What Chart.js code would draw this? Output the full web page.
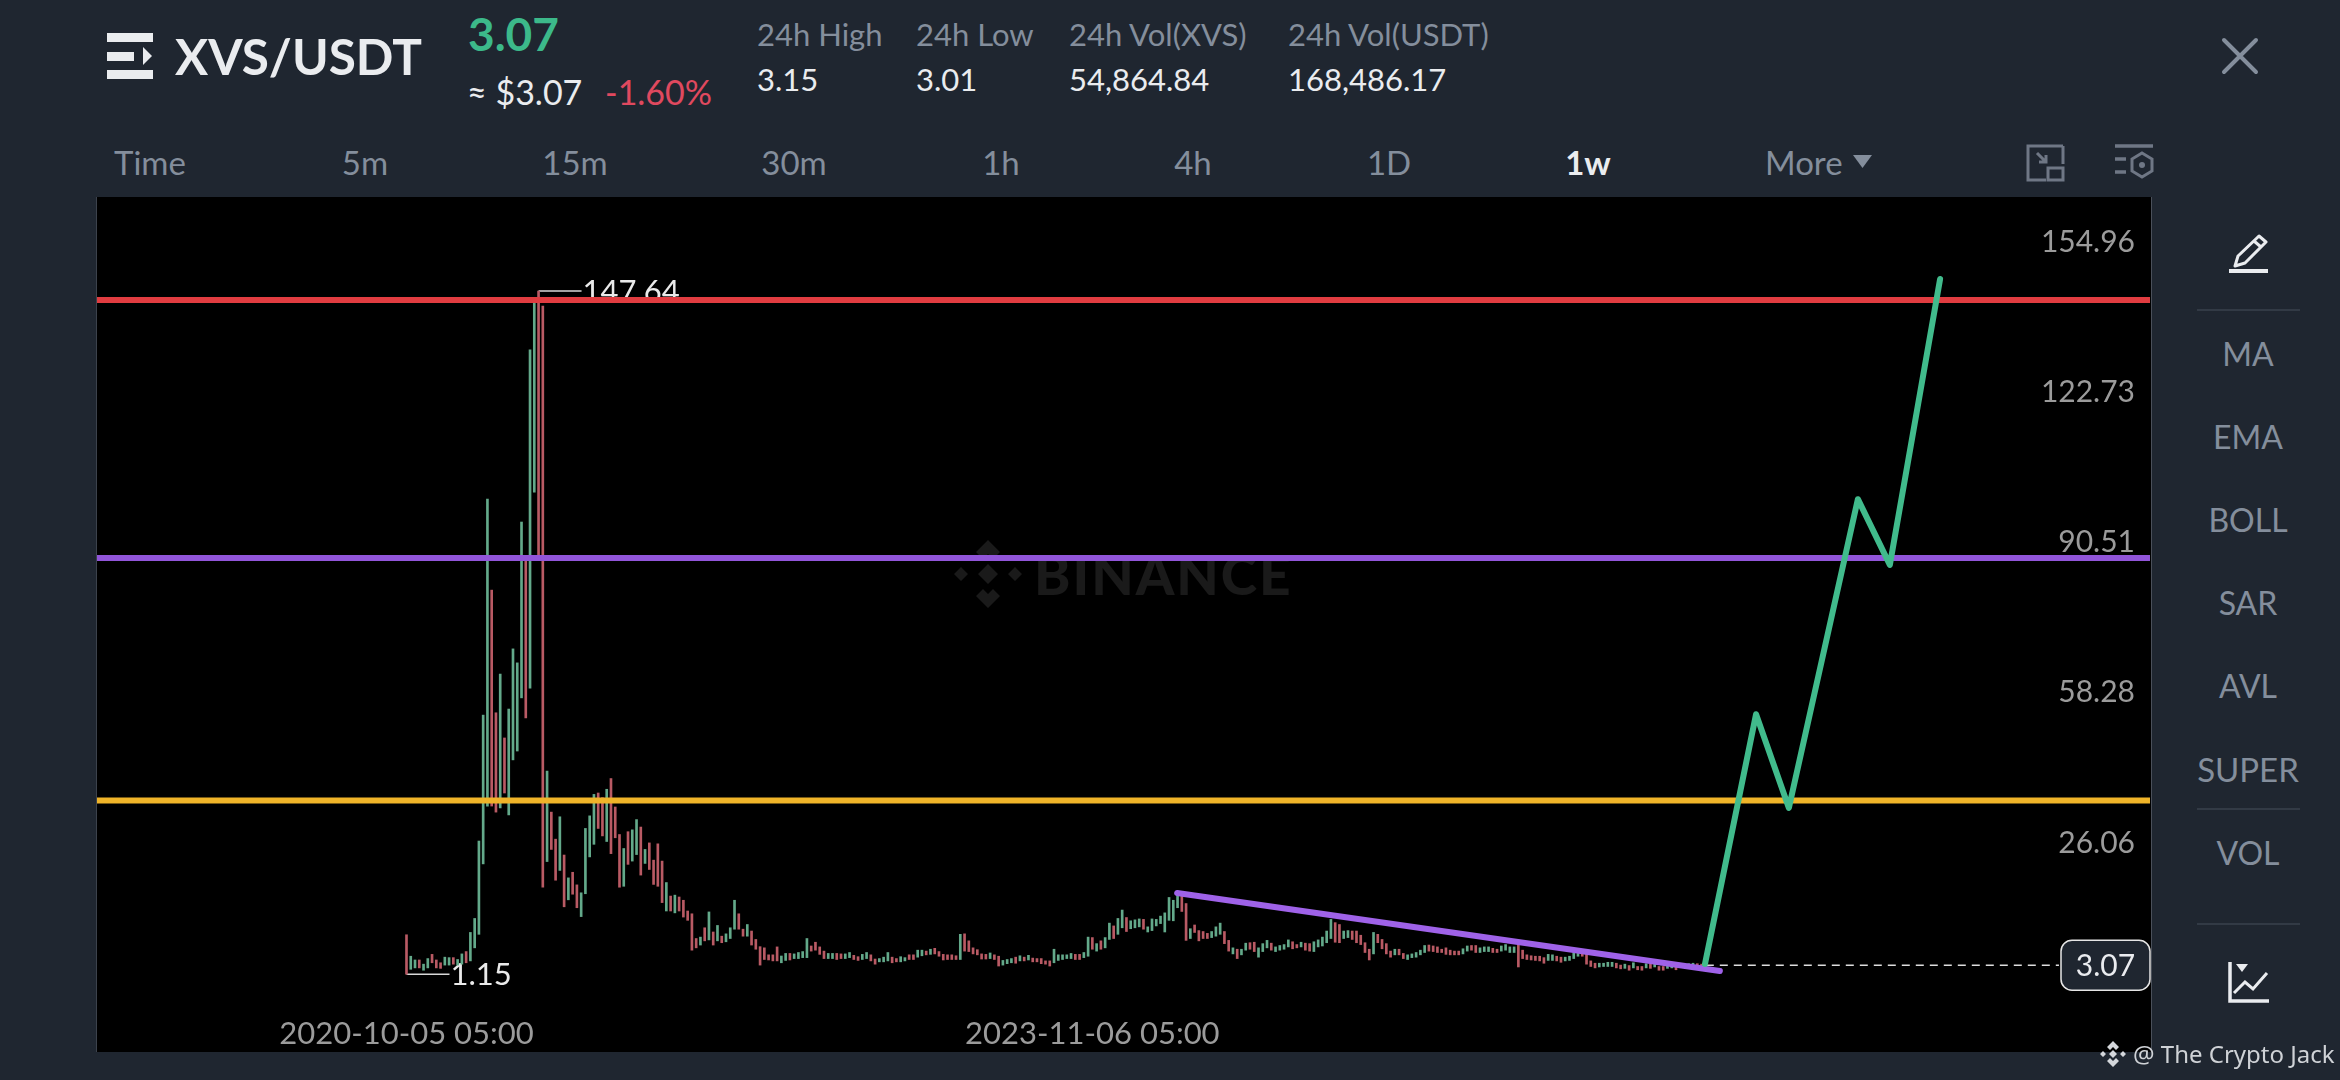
<!DOCTYPE html>
<html><head><meta charset="utf-8">
<script src="https://cdn.jsdelivr.net/npm/chart.js@4"></script>
<style>
html,body{margin:0;padding:0;width:2340px;height:1080px;overflow:hidden;background:#1f2630;font-family:Lato,sans-serif}
.t{position:absolute;white-space:nowrap;transform:translateY(-50%);line-height:1}
.g{color:#848e9c}.w{color:#eaecef}
.c{transform:translate(-50%,-50%)}
#plot{position:absolute;left:97px;top:197px;width:2054px;height:855px;background:#000}
#edge{position:absolute;left:96px;top:197px;width:2056px;height:855px;box-sizing:border-box;border-left:1px solid #3c424c;border-right:1px solid #4a505a}
canvas{position:absolute;left:0;top:0}
svg{position:absolute;left:0;top:0}
</style></head><body>
<svg width="2340" height="1080" viewBox="0 0 2340 1080">
 <g fill="#eaecef"><rect x="107" y="33" width="46" height="9"/><rect x="107" y="52" width="27" height="9"/><rect x="107" y="70" width="46" height="9"/><path d="M143 47l9 9-9 9z"/></g>
 <g stroke="#848e9c" stroke-width="4" fill="none" stroke-linecap="round"><path d="M2224 40L2256 72M2256 40L2224 72"/></g>
 <path d="M1853 155h19l-9.500 13z" fill="#848e9c"/>
 <g stroke="#6f7785" stroke-width="3" fill="none"><path d="M2048 146h-20v34h18M2063 146v18"/><path d="M2048 146h15"/><rect x="2048" y="168" width="15" height="12"/><path d="M2037 153l9 9M2046 155v7h-7"/>
  <path d="M2115 146h38M2115 159h11M2115 172h11" stroke-width="3.500"/><path d="M2142 153l10 6v12l-10 6-10-6v-12z"/></g>
 <circle cx="2142" cy="165" r="3" fill="#6f7785"/>
 <g stroke="#eaecef" stroke-width="3" fill="none"><path d="M2259 236l7 6-21 21-10 3 3-10z" stroke-linejoin="round"/><path d="M2254 241l7 6"/><path d="M2229 271h39" stroke-width="4"/></g>
 <g stroke="#3a414c" stroke-width="1.500"><path d="M2197 310h103M2197 809h103M2197 924h103"/></g>
 <g stroke="#eaecef" fill="none"><path d="M2230 962v39h39" stroke-width="3.500"/><path d="M2234 993l11-11 8 7 14-16" stroke-width="3"/></g><path d="M2236 964h12l-6 8z" fill="#eaecef"/>
</svg>
<div class="t w" style="left:175px;top:57px;font-size:49.500px;font-weight:700">XVS/USDT</div>
<div class="t" style="left:468px;top:34px;font-size:46px;font-weight:700;color:#3cb98a">3.07</div>
<div class="t w" style="left:467px;top:92px;font-size:34px">≈ $3.07</div>
<div class="t" style="left:605px;top:92px;font-size:34px;color:#e0495f">-1.60%</div>
<div class="t g" style="left:757px;top:34px;font-size:31px">24h High</div>
<div class="t g" style="left:916px;top:34px;font-size:31px">24h Low</div>
<div class="t g" style="left:1069px;top:34px;font-size:31px">24h Vol(XVS)</div>
<div class="t g" style="left:1288px;top:34px;font-size:31px">24h Vol(USDT)</div>
<div class="t w" style="left:757px;top:79px;font-size:31px">3.15</div>
<div class="t w" style="left:916px;top:79px;font-size:31px">3.01</div>
<div class="t w" style="left:1069px;top:79px;font-size:31px">54,864.84</div>
<div class="t w" style="left:1288px;top:79px;font-size:31px">168,486.17</div>
<div class="t g" style="left:114px;top:162px;font-size:33px">Time</div>
<div class="t g c" style="left:365px;top:162px;font-size:33px">5m</div>
<div class="t g c" style="left:575px;top:162px;font-size:33px">15m</div>
<div class="t g c" style="left:794px;top:162px;font-size:33px">30m</div>
<div class="t g c" style="left:1001px;top:162px;font-size:33px">1h</div>
<div class="t g c" style="left:1193px;top:162px;font-size:33px">4h</div>
<div class="t g c" style="left:1389px;top:162px;font-size:33px">1D</div>
<div class="t w c" style="left:1588px;top:162px;font-size:33px;font-weight:700">1w</div>
<div class="t g" style="left:1765px;top:162px;font-size:33px">More</div>
<div class="t g c" style="left:2248px;top:354px;font-size:32px">MA</div>
<div class="t g c" style="left:2248px;top:437px;font-size:32px">EMA</div>
<div class="t g c" style="left:2248px;top:520px;font-size:32px">BOLL</div>
<div class="t g c" style="left:2248px;top:603px;font-size:32px">SAR</div>
<div class="t g c" style="left:2248px;top:686px;font-size:32px">AVL</div>
<div class="t g c" style="left:2248px;top:769px;font-size:33px">SUPER</div>
<div class="t g c" style="left:2248px;top:853px;font-size:32px">VOL</div>
<div id="plot">
 <svg width="2054" height="855" viewBox="0 0 2054 855">
  <g fill="#1a1a1a" transform="translate(891,377)"><path d="M0-34L12-22 5-15 0-20-5-15-12-22zM-34 0l7-7 7 7-7 7zM34 0l-7-7-7 7 7 7zM-18 0l-0 0M0-10L10 0 0 10-10 0zM0 34L12 22 5 15 0 20-5 15-12 22z"/></g>
 </svg>
 <div class="t" style="left:937px;top:377px;font-size:55px;font-weight:900;color:#1a1a1a;letter-spacing:2px">BINANCE</div>
 <canvas id="c" width="2054" height="855"></canvas>
</div>
<div id="edge"></div>
<svg width="2340" height="1080" viewBox="0 0 2340 1080" style="pointer-events:none"><g fill="#d4d7db" transform="translate(2113,1054)"><path d="M0-13L6-7 3-4 0-7-3-4-6-7zM-13 0l3-3 3 3-3 3zM13 0l-3-3-3 3 3 3zM0-4L4 0 0 4-4 0zM0 13L6 7 3 4 0 7-3 4-6 7z"/></g></svg>
<div class="t" style="left:2133px;top:1054px;font-size:24px;color:#cfd2d6;font-family:'Noto Sans',sans-serif">@ The Crypto Jack</div>
<script>
const xTickIndex = [0, 161];
const xTickLabels = ['2020-10-05 05:00', '2023-11-06 05:00'];
const yTickValues = [26.06, 58.28, 90.51, 122.73, 154.96];
const highs = [
9.6,5.0,4.2,4.2,3.3,4.5,5.4,4.2,3.6,4.8,
4.7,4.7,4.3,5.5,6.0,10.1,13.1,29.7,56.7,103.0,
83.5,57.2,65.5,51.8,58.0,70.9,67.9,98.1,90.8,135.0,
145.1,147.64,144.4,44.7,35.9,30.1,34.9,26.7,21.8,23.0,
20.3,18.6,32.4,35.1,39.7,40.0,39.0,40.8,43.1,37.0,
31.1,28.1,31.7,32.1,34.3,32.7,27.9,29.3,25.6,29.1,
25.4,20.8,17.9,18.1,17.7,17.0,14.7,14.1,8.8,9.1,
11.1,14.5,10.2,11.6,9.3,9.8,11.1,17.0,14.1,10.8,
11.8,10.4,8.6,7.05,6.8,5.3,5.3,7.0,5.05,5.6,
5.6,5.5,5.8,6.0,8.8,7.2,8.0,7.0,6.1,5.6,
5.6,5.6,5.5,5.5,5.8,5.2,4.9,5.4,5.8,5.3,
4.4,4.5,4.8,5.8,4.8,4.5,4.9,4.7,5.3,5.3,
6.3,6.3,6.1,6.5,6.7,6.0,5.4,5.3,5.3,5.1,
9.7,9.8,8.3,6.8,6.4,5.5,5.4,5.7,5.3,5.0,
4.1,4.3,4.5,4.8,5.1,4.8,5.2,4.6,4.5,4.5,
4.0,4.0,6.5,5.3,5.3,5.3,5.6,5.4,5.4,5.8,
9.1,9.0,7.7,8.3,9.0,12.1,11.5,13.1,14.9,13.3,
12.6,12.8,13.0,12.9,11.3,13.0,12.9,13.6,14.3,17.6,
17.0,18.3,17.9,16.3,10.9,11.7,10.5,10.3,9.9,10.3,
11.3,12.1,10.3,8.4,6.8,6.5,6.5,7.8,7.9,8.0,
6.8,7.7,8.4,7.8,7.0,7.3,7.5,8.5,8.1,7.5,
8.0,7.8,7.7,8.1,8.5,9.1,10.4,12.9,12.2,11.8,
10.4,10.5,10.4,10.4,9.5,7.9,6.5,10.1,9.7,8.6,
7.7,6.1,6.5,6.5,5.6,5.3,5.5,5.8,6.3,7.3,
7.4,7.2,7.0,6.5,6.8,6.3,6.1,6.1,6.6,7.2,
7.3,7.3,6.8,7.0,7.0,6.7,6.5,7.2,7.5,7.0,
7.0,7.5,6.3,5.3,5.1,5.0,5.0,4.7,5.4,5.3,
5.0,4.8,4.8,5.0,5.8,5.6,5.7,5.5,4.0,3.5,
3.5,3.5,3.7,3.7,3.5,3.1,3.3,3.0,3.6,2.8,
2.8,3.4,3.3,3.4,2.8,2.8,3.1,3.3,3.0,3.3,
3.3,3.4,3.5,3.4,3.3,3.5];
const lows = [
1.15,2.2,2.5,2.5,2.0,2.5,3.6,2.5,2.4,3.1,
3.1,3.3,3.1,3.3,3.6,4.0,6.8,9.7,24.8,37.2,
37.2,35.9,36.8,40.0,35.3,47.1,49.0,60.4,56.1,62.5,
104.5,90.8,19.8,25.3,27.9,21.3,23.4,15.6,17.1,18.3,
15.4,13.5,18.4,26.3,29.0,32.4,30.8,29.6,27.0,30.4,
19.8,20.0,24.7,25.4,26.8,22.4,24.9,23.6,20.4,20.0,
16.5,14.7,14.7,14.3,14.7,13.4,12.7,6.3,6.8,7.4,
8.3,8.5,7.4,8.3,7.9,8.1,8.8,10.8,10.8,9.3,
9.3,7.4,6.5,3.1,4.3,4.2,4.0,4.0,3.6,4.1,
4.2,4.5,4.5,4.7,4.7,6.1,6.3,5.4,4.5,4.5,
4.5,4.3,4.5,4.5,4.7,4.3,4.1,4.3,4.5,4.0,
3.3,3.8,3.8,4.0,3.6,3.8,3.8,4.0,4.3,4.3,
4.8,5.1,5.3,5.4,5.5,5.0,4.2,4.3,4.3,4.3,
4.3,6.1,6.0,5.5,5.3,4.4,4.4,4.5,4.3,2.9,
3.1,3.4,3.6,3.5,4.0,4.0,4.2,3.8,3.8,3.4,
3.3,2.9,3.6,4.1,4.3,4.5,4.5,4.3,4.3,4.7,
5.0,6.5,6.1,6.5,6.8,8.6,8.8,9.7,11.1,10.3,
10.9,11.1,11.3,10.8,10.2,10.5,11.5,12.0,10.2,12.7,
12.6,15.4,14.6,8.4,8.8,10.1,8.3,8.8,8.8,9.0,
9.3,9.7,7.7,6.1,5.5,4.5,5.3,6.3,6.5,6.0,
4.8,6.0,6.8,6.3,6.0,6.3,6.5,7.0,6.6,6.8,
7.0,6.3,6.1,6.0,7.0,7.2,7.9,8.8,8.0,7.9,
8.8,9.0,8.6,7.9,7.5,5.8,4.2,5.5,7.9,6.6,
5.5,4.8,5.3,5.3,4.5,4.3,4.7,4.8,5.3,5.8,
6.1,6.0,5.8,5.8,5.4,5.3,5.3,5.3,5.5,6.1,
6.3,5.8,5.8,6.0,6.0,5.8,5.8,6.1,6.3,5.8,
5.8,2.7,4.5,4.3,4.2,4.1,4.0,3.5,4.1,4.1,
4.0,3.7,4.0,4.1,4.5,5.0,5.0,3.3,2.8,2.5,
2.7,2.8,2.8,2.8,2.5,2.3,2.4,2.0,2.5,2.1,
2.0,2.5,2.4,2.7,2.0,2.0,2.4,2.5,2.1,2.7,
2.7,2.7,2.8,2.8,2.7,3.0];
const ups = [
0,1,1,0,1,1,0,0,0,1,
1,0,1,1,0,1,1,1,1,1,
0,0,1,0,1,1,1,1,0,1,
1,0,0,1,0,0,1,0,1,0,
0,1,1,1,1,0,0,1,0,0,
0,1,0,1,1,0,1,0,0,0,
0,1,0,1,0,0,0,0,0,1,
0,1,0,1,0,1,1,1,0,0,
1,0,0,0,0,0,0,0,1,1,
0,1,1,1,1,0,0,0,0,1,
1,0,0,1,1,0,0,1,1,0,
0,1,1,1,0,0,1,1,0,0,
1,1,0,1,0,0,0,0,0,0,
1,0,0,0,0,0,0,1,0,0,
1,1,1,0,1,0,1,0,0,0,
0,0,1,1,1,1,1,0,0,1,
1,0,1,0,1,1,0,1,1,0,
1,1,1,0,1,1,1,1,1,1,
1,1,0,0,1,0,0,0,0,1,
1,1,0,0,1,0,1,1,0,0,
1,1,1,0,1,1,1,1,0,0,
1,0,0,1,1,1,1,1,0,0,
1,1,0,0,0,0,0,1,0,0,
0,0,1,0,0,1,1,1,1,1,
0,0,0,0,0,0,0,0,1,1,
0,0,1,1,1,0,0,1,1,1,
1,0,0,0,0,0,0,0,1,1,
0,0,1,1,1,1,0,0,0,0,
1,1,1,1,0,0,1,0,1,0,
0,1,0,1,0,0,1,1,0,1,
1,1,1,0,0,1];
const levelRed = 145.7, levelPurple = 90.4, levelYellow = 38.4;
const forecastX = [304.8, 316.8, 324.5, 340.7, 348.2, 360];
const forecastY = [3.33, 56.9, 36.8, 103.0, 88.9, 150.2];
const trendX = [180.9, 308.3];
const trendY = [18.55, 1.83];
const lastPrice = 3.07, lastX = [305, 387.9];
const highMark = {i: 31, v: 147.64}, lowMark = {i: 0, v: 1.15};
const xMin = -72.65, xMax = 409.27, yMin = -7.6, yMax = 167.79;

const candles = highs.map((h, i) => ({x: i, y: [lows[i], h]}));
const pts = (xs, ys) => xs.map((x, i) => ({x, y: ys[i]}));
const line = (data, color, order, extra) => Object.assign({type: 'line', data, borderColor: color, borderWidth: 6, pointRadius: 0, tension: 0, fill: false, order, borderCapStyle: 'round', borderJoinStyle: 'round'}, extra || {});

const marks = {
  id: 'marks',
  beforeDatasetsDraw(ch) {
    const c = ch.ctx, X = ch.scales.x, Y = ch.scales.y;
    c.save();
    c.strokeStyle = '#d8d8d8'; c.fillStyle = '#eaeaea'; c.lineWidth = 1.5;
    c.font = '31px Lato'; c.textBaseline = 'middle'; c.textAlign = 'left';
    [highMark, lowMark].forEach(m => {
      const x = X.getPixelForValue(m.i), y = Y.getPixelForValue(m.v);
      c.beginPath(); c.moveTo(x, y); c.lineTo(x + 43, y); c.stroke();
      c.fillText(m.v.toFixed(2), x + 44, y + 1);
    });
    c.restore();
  },
  afterDatasetsDraw(ch) {
    const c = ch.ctx, Y = ch.scales.y;
    const y = Y.getPixelForValue(lastPrice), w = 89, h = 50, x = 2054 - w - 1;
    c.save();
    c.beginPath(); c.roundRect(x, y - h / 2, w, h, 11);
    c.fillStyle = '#1f2630'; c.fill();
    c.strokeStyle = '#e6e6e6'; c.lineWidth = 1.5; c.stroke();
    c.fillStyle = '#eaecef'; c.font = '30px Lato'; c.textAlign = 'center'; c.textBaseline = 'middle';
    c.fillText(lastPrice.toFixed(2), x + w / 2, y + 1);
    c.restore();
  }
};

new Chart(document.getElementById('c'), {
  data: {datasets: [
    {type: 'bar', data: candles, backgroundColor: ups.map(u => u ? '#63a98a' : '#b95a64'), barThickness: 2, borderWidth: 0, order: 10, grouped: false},
    line(pts([xMin, xMax], [levelYellow, levelYellow]), '#f0b429', 5, {borderCapStyle: 'butt'}),
    line(pts([xMin, xMax], [levelPurple, levelPurple]), '#9155d9', 5, {borderCapStyle: 'butt'}),
    line(pts([xMin, xMax], [levelRed, levelRed]), '#e03c40', 5, {borderCapStyle: 'butt'}),
    line(pts(lastX, [lastPrice, lastPrice]), '#dddddd', 4, {borderWidth: 1.5, borderDash: [8, 6], borderCapStyle: 'butt'}),
    line(pts(trendX, trendY), '#9f62e8', 2),
    line(pts(forecastX, forecastY), '#41bb8c', 1),
  ]},
  plugins: [marks],
  options: {
    responsive: false, animation: false, devicePixelRatio: 1,
    layout: {padding: 0},
    plugins: {legend: {display: false}, tooltip: {enabled: false}},
    scales: {
      x: {type: 'linear', offset: false, min: xMin, max: xMax, position: 'bottom',
        afterBuildTicks: s => { s.ticks = xTickIndex.map(v => ({value: v})); },
        afterFit: s => { s.height = 37; s.paddingLeft = 0; s.paddingRight = 0; },
        grid: {display: false, drawTicks: false, offset: false}, border: {display: false},
        ticks: {autoSkip: false, maxRotation: 0, color: '#9b9b9b', padding: 0, font: {family: 'Lato', size: 31},
          callback: v => xTickLabels[xTickIndex.indexOf(v)]}},
      y: {type: 'linear', min: yMin, max: yMax, position: 'right',
        afterBuildTicks: s => { s.ticks = yTickValues.map(v => ({value: v})); },
        afterFit: s => { s.width = 1; s.paddingTop = 0; s.paddingBottom = 0; },
        grid: {display: false, drawTicks: false}, border: {display: false},
        ticks: {mirror: true, autoSkip: false, padding: -15, labelOffset: -15, color: '#9b9b9b', font: {family: 'Lato', size: 30},
          callback: v => Number(v).toFixed(2)}}
    }
  }
});
</script>
</body></html>
